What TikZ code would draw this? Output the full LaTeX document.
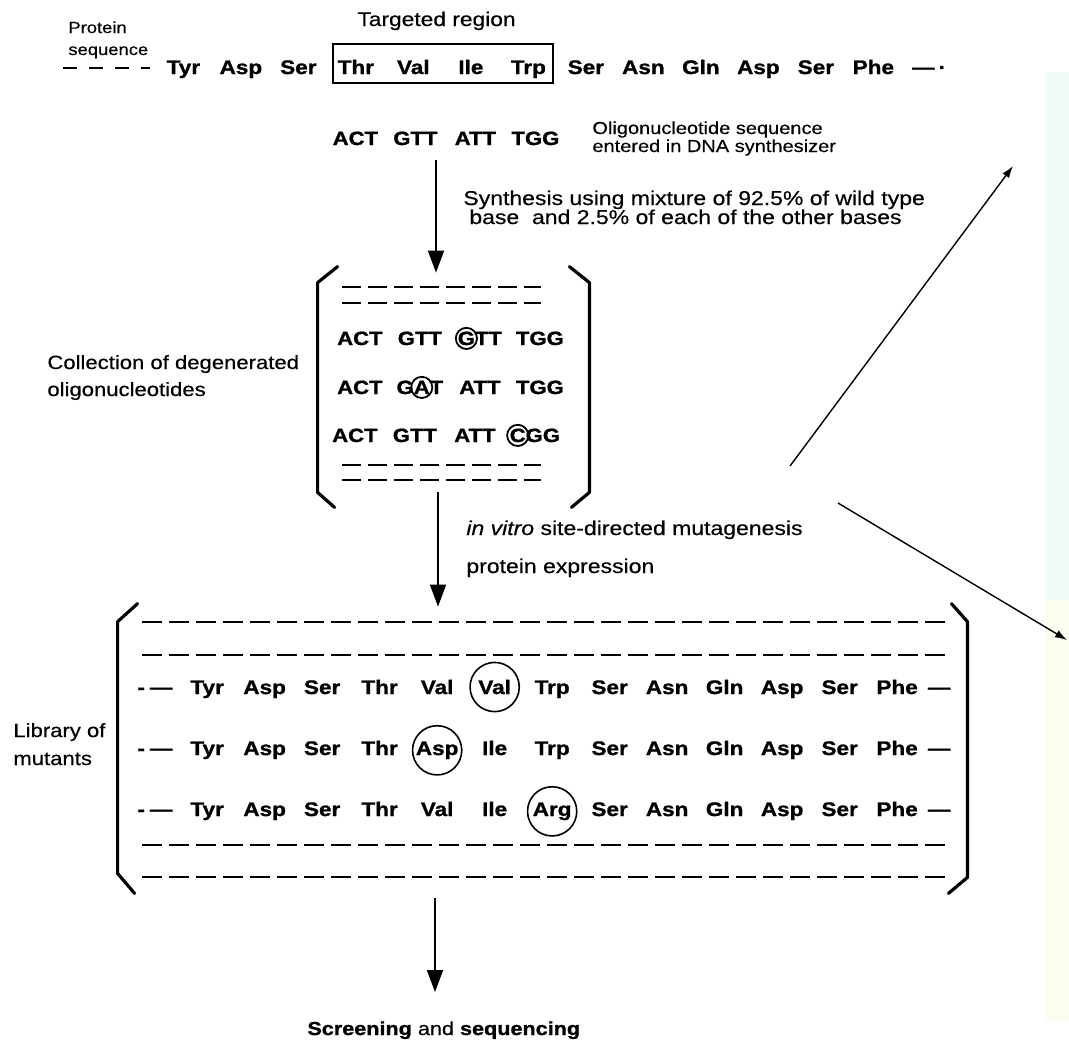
\documentclass[tikz,border=0pt]{standalone}
\usepackage{fontspec}
\setmainfont[FakeStretch=1.15,FakeBold=0.4,BoldFeatures={FakeBold=1.1}]{Liberation Sans}
\usetikzlibrary{arrows.meta}
\usetikzlibrary{positioning}

\definecolor{stripcyan}{RGB}{240,250,248}
\definecolor{stripyellow}{RGB}{252,253,241}

\newcommand{\amino}[1]{\makebox[28.75pt]{#1}}
\newcommand{\codon}[1]{\makebox[30pt]{#1}}
\newcommand{\ringed}[1]{\tikz[baseline=(rb.base)]{\node[inner sep=0pt] (rb) {#1}; \draw[overlay,line width=0.9pt] (rb.center) circle (5.3pt);}}
\newcommand{\ringword}[1]{\tikz[baseline=(rw.base)]{\node[inner sep=0pt] (rw) {#1}; \draw[overlay,line width=0.8pt] (rw.center) circle (12.3pt);}}

\begin{document}
\begin{tikzpicture}[x=0.5pt,y=-0.5pt,
    lbl/.style={inner sep=0pt,anchor=base west,align=left,font=\fontsize{9.8}{9.5}\selectfont},
    seqrow/.style={inner sep=0pt,anchor=base west,font=\fontsize{9.8}{12}\selectfont\bfseries},
    region/.style={inner sep=0pt},
    bracket/.style={line width=1.6pt,line join=round,line cap=round},
    strand/.style={line width=1.4pt,dash pattern=on 10pt off 3.5pt},
    flow/.style={line width=0.9pt,-{Triangle[length=11pt,width=8pt]}},
    branch/.style={line width=0.7pt,-{Latex[length=6pt,width=4pt]}}]

  \useasboundingbox (0,0) rectangle (1069,1041);
  \fill[stripcyan] (1046,72) rectangle (1069,600);
  \fill[stripyellow] (1046,600) rectangle (1069,1021);

  % protein sequence
  \node[lbl,font=\fontsize{8}{11}\selectfont] (protlbl) at (68,55) {Protein\\sequence};
  \draw[line width=1.1pt,dash pattern=on 7pt off 6pt] (63,68) -- (150,68);
  \node[seqrow] (prot) at (154.25,74) {\amino{Tyr}\amino{Asp}\amino{Ser}\amino{Thr}\amino{Val}\amino{Ile}\amino{Trp}\amino{Ser}\amino{Asn}\amino{Gln}\amino{Asp}\amino{Ser}\amino{Phe}\hspace{5pt}—\hspace{2pt}·};
  \node[draw,line width=1.2pt,minimum width=110pt,minimum height=19.5pt] (target) at (443,63.5) {};
  \node[lbl,font=\fontsize{9.9}{10}\selectfont] (targetlbl) at (357,26) {Targeted region};

  % oligonucleotide
  \node[seqrow,font=\fontsize{9.6}{12}\selectfont\bfseries] (wt) at (325,145) {\codon{ACT}\codon{GTT}\codon{ATT}\codon{TGG}};
  \node[lbl,font=\fontsize{8.7}{9}\selectfont] (wtlbl) at (592,152) {Oligonucleotide sequence\\entered in DNA synthesizer};
  \node[lbl,font=\fontsize{10}{9.5}\selectfont] (synth) at (463,224) {Synthesis using mixture of 92.5\% of wild type\\\hspace{3pt}base\ \ and 2.5\% of each of the other bases};

  % degenerated oligonucleotides
  \node[region,minimum width=135.5pt,minimum height=120pt] (pool) at (453.5,387) {};
  \draw[bracket] ([xshift=10pt]pool.north west) -- ([yshift=-8pt]pool.north west) -- ([yshift=7.5pt]pool.south west) -- ([xshift=8.5pt]pool.south west);
  \draw[bracket] ([xshift=-10pt]pool.north east) -- ([yshift=-8pt]pool.north east) -- ([yshift=7.5pt]pool.south east) -- ([xshift=-9pt]pool.south east);
  \draw[strand,dash pattern=on 9.5pt off 3.5pt] (342,287) -- (541,287);
  \draw[strand,dash pattern=on 9.5pt off 3.5pt] (342,303) -- (541,303);
  \draw[strand,dash pattern=on 9.5pt off 3.5pt] (342,465) -- (541,465);
  \draw[strand,dash pattern=on 9.5pt off 3.5pt] (342,480) -- (541,480);
  \node[seqrow,font=\fontsize{9.6}{12}\selectfont\bfseries] (oligoA) at (329.5,345) {\codon{ACT}\codon{GTT}\codon{\ringed{G}TT}\codon{TGG}};
  \node[seqrow,font=\fontsize{9.6}{12}\selectfont\bfseries] (oligoB) at (329.5,394) {\codon{ACT}\codon{G\ringed{A}T}\codon{ATT}\codon{TGG}};
  \node[seqrow,font=\fontsize{9.6}{12}\selectfont\bfseries] (oligoC) at (324.5,442) {\codon{ACT}\codon{GTT}\codon{ATT}\codon{\ringed{C}GG}};
  \node[lbl,font=\fontsize{9.6}{13.5}\selectfont] (poollbl) at (47,396) {Collection of degenerated\\oligonucleotides};

  % mutagenesis
  \node[lbl,font=\fontsize{10}{10}\selectfont] (invitro) at (466,535) {\textit{in vitro} site-directed mutagenesis};
  \node[lbl,font=\fontsize{10}{10}\selectfont] (express) at (466,573) {protein expression};

  % library of mutants
  \node[region,minimum width=424.5pt,minimum height=144.5pt] (lib) at (542.5,748.5) {};
  \draw[bracket] ([xshift=10pt]lib.north west) -- ([yshift=-9pt]lib.north west) -- ([yshift=10pt]lib.south west) -- ([xshift=8.5pt]lib.south west);
  \draw[bracket] ([xshift=-8pt]lib.north east) -- ([yshift=-9pt]lib.north east) -- ([yshift=8pt]lib.south east) -- ([xshift=-9.5pt]lib.south east);
  \draw[strand] (142,622) -- (951,622);
  \draw[strand] (142,655) -- (951,655);
  \draw[strand] (142,845) -- (951,845);
  \draw[strand] (142,877) -- (951,877);
  \node[seqrow] (mutA) at (137,694) {\makebox[20.5pt][l]{-\hspace{2.5pt}—}\amino{Tyr}\amino{Asp}\amino{Ser}\amino{Thr}\amino{Val}\amino{\ringword{Val}}\amino{Trp}\amino{Ser}\amino{Asn}\amino{Gln}\amino{Asp}\amino{Ser}\amino{Phe}\hspace{1pt}—};
  \node[seqrow] (mutB) at (137,755) {\makebox[20.5pt][l]{-\hspace{2.5pt}—}\amino{Tyr}\amino{Asp}\amino{Ser}\amino{Thr}\amino{\ringword{Asp}}\amino{Ile}\amino{Trp}\amino{Ser}\amino{Asn}\amino{Gln}\amino{Asp}\amino{Ser}\amino{Phe}\hspace{1pt}—};
  \node[seqrow] (mutC) at (137,816) {\makebox[20.5pt][l]{-\hspace{2.5pt}—}\amino{Tyr}\amino{Asp}\amino{Ser}\amino{Thr}\amino{Val}\amino{Ile}\amino{\ringword{Arg}}\amino{Ser}\amino{Asn}\amino{Gln}\amino{Asp}\amino{Ser}\amino{Phe}\hspace{1pt}—};
  \node[lbl,font=\fontsize{9.6}{14}\selectfont] (liblbl) at (13,765) {Library of\\mutants};

  \node[lbl,font=\fontsize{9.4}{10}\selectfont] (screen) at (307,1035) {\textbf{Screening} and \textbf{sequencing}};

  % arrows
  \coordinate (s1) at (436,160);
  \coordinate (s2) at (438,492);
  \coordinate (s3) at (435,898);
  \draw[flow] (s1) -- ([yshift=-3pt]s1 |- pool.north);
  \draw[flow] (s2) -- ([yshift=-1.5pt]s2 |- lib.north);
  \draw[flow] (s3) -- (s3 |- 0,992);

  \coordinate (upA) at (790,466);
  \coordinate (upB) at (1013,166);
  \coordinate (downA) at (838,503);
  \coordinate (downB) at (1067,640);
  \draw[branch] (upA) -- (upB);
  \draw[branch] (downA) -- (downB);
\end{tikzpicture}
\end{document}
